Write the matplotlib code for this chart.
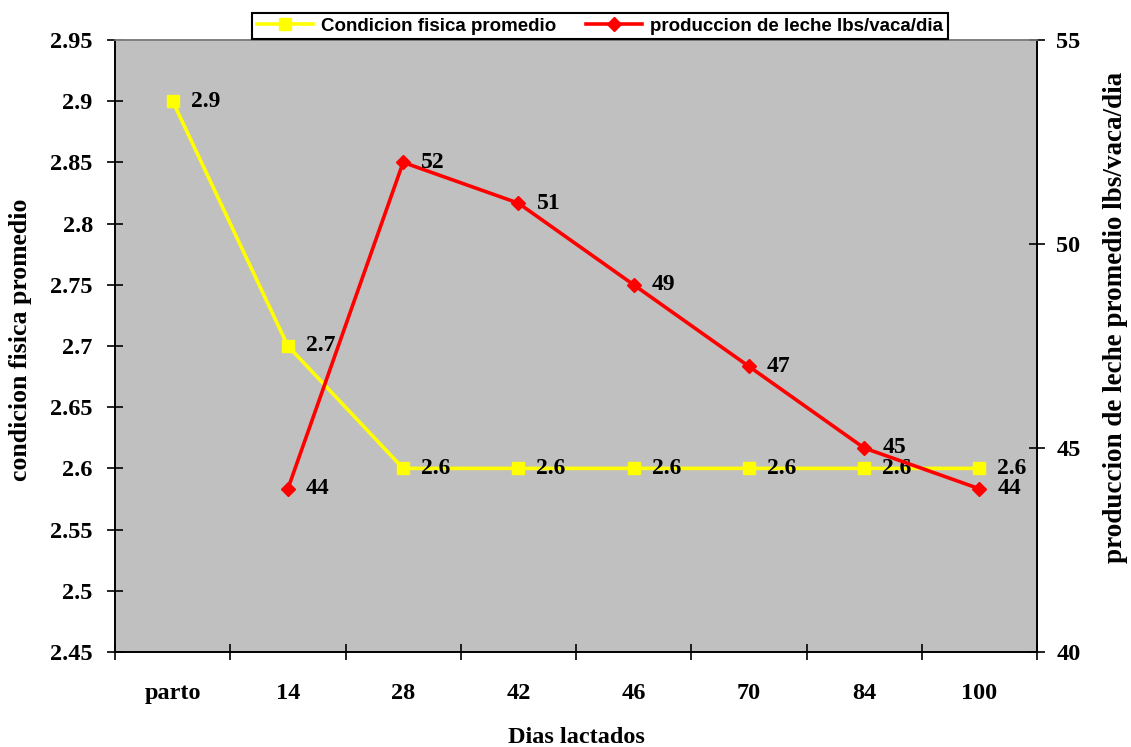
import matplotlib.pyplot as plt
import numpy as np

dias = ['parto', '14', '28', '42', '46', '70', '84', '100']
condicion = [2.9, 2.7, 2.6, 2.6, 2.6, 2.6, 2.6, 2.6]
leche_dias = ['14', '28', '42', '46', '70', '84', '100']
leche = [44, 52, 51, 49, 47, 45, 44]

serif = 'Liberation Serif'
sans = 'Liberation Sans'

fig = plt.figure(figsize=(11.31, 7.47), dpi=100)
ax = fig.add_axes([0.1017, 0.1272, 0.8152, 0.8193])
ax.set_facecolor('#c0c0c0')
ax2 = ax.twinx()

x = np.arange(len(dias))
x2 = np.array([dias.index(d) for d in leche_dias])

l1, = ax.plot(x, condicion, color='#ffff00', lw=2.6, marker='s', ms=8,
              label='Condicion fisica promedio')
l2, = ax2.plot(x2, leche, color='#ff0000', lw=2.6, marker='D', ms=7.5,
               label='produccion de leche lbs/vaca/dia')

for xi, v in zip(x, condicion):
    ax.annotate(f'{v:g}', (xi, v), xytext=(13, 0), textcoords='offset points',
                va='center', ha='left', fontsize=17, fontweight='bold', family=serif)
for xi, v in zip(x2, leche):
    ax2.annotate(f'{v:g}', (xi, v), xytext=(13, 0), textcoords='offset points',
                 va='center', ha='left', fontsize=17, fontweight='bold', family=serif)

ax.set_xlim(-0.5, len(dias) - 0.5)
ax.set_ylim(2.45, 2.95)
yt = np.arange(2.45, 2.951, 0.05).round(2)
ax.set_yticks(yt)
ax.set_yticklabels([f'{t:g}' for t in yt])
ax2.set_ylim(40, 55)
ax2.set_yticks([40, 45, 50, 55])

ax.set_xticks(np.arange(-0.5, len(dias), 1))
ax.set_xticklabels([])
ax.set_xticks(x, minor=True)
ax.set_xticklabels(dias, minor=True)
ax.tick_params(axis='x', which='minor', length=0, pad=22)
ax.tick_params(axis='x', which='major', direction='inout', length=12, width=1.2)
ax.tick_params(axis='y', direction='inout', length=12, width=1.2, pad=10)
ax2.tick_params(axis='y', direction='inout', length=12, width=1.2, pad=8)

for a in (ax, ax2):
    for lab in a.get_yticklabels() + a.get_xticklabels(minor=True):
        lab.set_fontfamily(serif)
        lab.set_fontweight('bold')
        lab.set_fontsize(17.5)
    for s in a.spines.values():
        s.set_linewidth(1.2)
ax.spines['top'].set_color('#808080')
ax2.spines['top'].set_color('#808080')

ax.set_xlabel('Dias lactados', family=serif, fontweight='bold', fontsize=17.5, labelpad=17)
fig.text(0.0177, 0.545, 'condicion fisica promedio', rotation=90, ha='center', va='center',
         family=serif, fontweight='bold', fontsize=18.5)
fig.text(0.986, 0.575, 'produccion de leche promedio lbs/vaca/dia', rotation=90,
         ha='center', va='center', family=serif, fontweight='bold', fontsize=19.5)

leg = fig.legend(handles=[l1, l2], loc='center', bbox_to_anchor=(0.5305, 0.965),
                 ncol=2, frameon=True, fancybox=False, edgecolor='black', framealpha=1,
                 prop={'family': sans, 'weight': 'bold', 'size': 13.5},
                 handlelength=3.0, columnspacing=1.6, borderpad=0.25, handletextpad=0.4)
leg.get_frame().set_linewidth(1.5)

fig.savefig('out.png', dpi=100)
